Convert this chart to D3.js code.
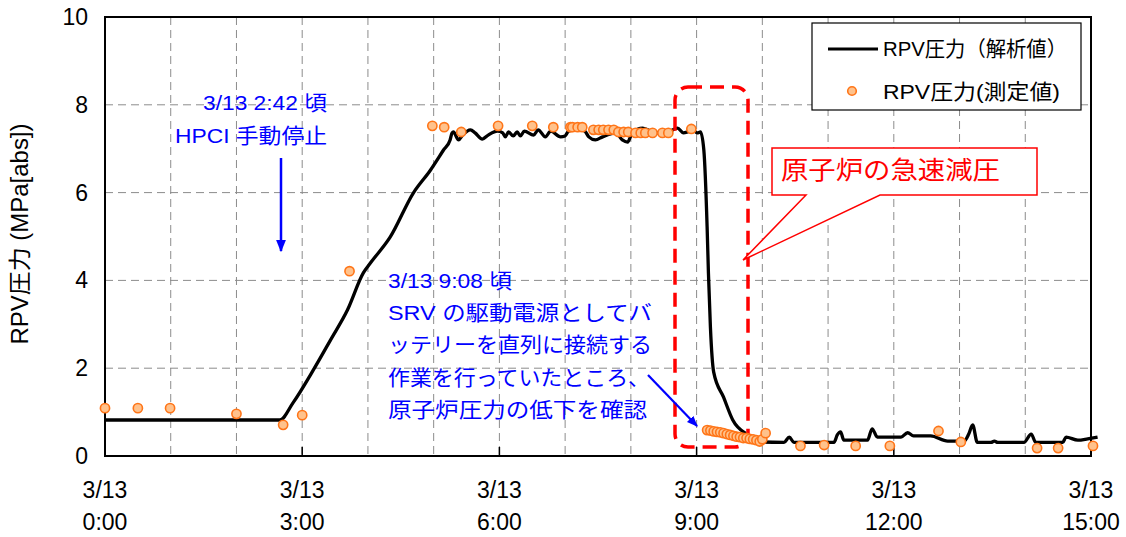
<!DOCTYPE html>
<html><head><meta charset="utf-8">
<script src="https://cdn.jsdelivr.net/npm/d3@7"></script>
<style>
html,body{margin:0;padding:0;background:#fff;}
svg{display:block;font-family:"Liberation Sans","Noto Sans CJK JP",sans-serif;}
</style></head>
<body>
<svg id="chart" width="1126" height="537"></svg>
<script>
// ---- data ----
const analysisHours = [0,2.66,2.86,3.17,3.43,3.69,3.93,4.04,4.34,4.69,4.95,5.15,5.25,5.28,5.30,5.38,5.44,5.56,5.63,5.74,5.83,5.97,6.05,6.09,6.14,6.21,6.27,6.32,6.38,6.52,6.59,6.70,6.78,6.93,7.00,7.05,7.20,7.30,7.36,7.46,7.57,7.77,7.87,7.95,8.02,8.18,8.38,8.53,8.71,8.80,8.86,8.94,9.01,9.06,9.11,9.16,9.18,9.21,9.26,9.41,9.55,9.78,9.97,10.33,10.41,10.48,11.09,11.14,11.19,11.24,11.60,11.67,11.75,12.11,12.21,12.30,12.56,12.82,13.07,13.14,13.20,13.27,13.48,13.53,13.58,13.98,14.09,14.16,14.57,14.62,14.80,14.95,15.10];
const analysisValues = [0.82,0.82,1.21,1.96,2.64,3.33,4.17,4.40,4.99,5.99,6.51,6.97,7.20,7.36,7.38,7.20,7.31,7.43,7.36,7.22,7.31,7.40,7.36,7.27,7.38,7.29,7.38,7.29,7.40,7.31,7.43,7.27,7.40,7.27,7.29,7.40,7.45,7.40,7.27,7.20,7.27,7.36,7.20,7.15,7.36,7.47,7.36,7.36,7.47,7.36,7.38,7.43,7.36,7.38,6.97,5.22,4.17,2.94,1.91,1.34,0.82,0.48,0.32,0.31,0.43,0.31,0.31,0.48,0.55,0.36,0.36,0.62,0.43,0.43,0.53,0.46,0.46,0.34,0.34,0.50,0.71,0.31,0.31,0.34,0.31,0.31,0.50,0.31,0.31,0.43,0.36,0.39,0.43];

const measuredHours = [0,0.5,0.99,2.0,2.71,3.0,3.72,4.98,5.16,5.42,5.98,6.50,6.82,7.08,7.11,7.19,7.26,7.43,7.51,7.58,7.66,7.74,7.81,7.89,7.96,8.07,8.15,8.22,8.33,8.48,8.57,8.92,9.16,9.21,9.26,9.31,9.36,9.41,9.46,9.51,9.56,9.61,9.66,9.71,9.76,9.81,9.86,9.91,9.96,10.00,10.05,10.58,10.94,11.42,11.94,12.68,13.02,14.18,14.50,15.03];
const measuredValues = [1.09,1.09,1.09,0.96,0.71,0.93,4.21,7.52,7.49,7.38,7.52,7.52,7.49,7.49,7.49,7.49,7.49,7.43,7.43,7.43,7.43,7.43,7.38,7.38,7.38,7.36,7.36,7.36,7.36,7.36,7.36,7.45,0.59,0.58,0.56,0.55,0.54,0.52,0.50,0.48,0.46,0.44,0.43,0.41,0.41,0.39,0.38,0.36,0.33,0.38,0.52,0.23,0.25,0.23,0.23,0.57,0.32,0.18,0.18,0.23];

const xTickHours = [0,3,6,9,12,15];
const xTickDates = ["3/13","3/13","3/13","3/13","3/13","3/13"];
const xTickTimes = ["0:00","3:00","6:00","9:00","12:00","15:00"];
const yTicks = [0,2,4,6,8,10];

const legendLabels = ["RPV圧力（解析値）","RPV圧力(測定値)"];
const yTitle = "RPV圧力 (MPa[abs])";
const note1 = ["3/13 2:42 頃","HPCI 手動停止"];
const note2 = ["3/13 9:08 頃","SRV  の駆動電源としてバ","ッテリーを直列に接続する","作業を行っていたところ、","原子炉圧力の低下を確認"];
const calloutText = "原子炉の急速減圧";

// ---- layout ----
const svg = d3.select("#chart");
const L = 105, R = 1091, T = 17, B = 456;
const x = d3.scaleLinear().domain([0,15]).range([L,R]);
const y = d3.scaleLinear().domain([0,10]).range([B,T]);

const defs = svg.append("defs");
defs.append("marker").attr("id","arrowBlue").attr("viewBox","0 0 10 10")
  .attr("refX",9).attr("refY",5).attr("markerWidth",5).attr("markerHeight",5)
  .attr("markerUnits","strokeWidth").attr("orient","auto")
  .append("path").attr("d","M0,1 L10,5 L0,9 Z").attr("fill","#0000ff");

// grid
const grid = svg.append("g");
grid.selectAll("line.v").data(d3.range(1,15)).enter().append("line")
  .attr("x1",d=>x(d)).attr("x2",d=>x(d)).attr("y1",T).attr("y2",B)
  .attr("stroke","#8c8c8c").attr("stroke-width",1).attr("stroke-dasharray","8,5");
grid.selectAll("line.h").data([2,4,6,8]).enter().append("line")
  .attr("x1",L).attr("x2",R).attr("y1",d=>y(d)).attr("y2",d=>y(d))
  .attr("stroke","#8c8c8c").attr("stroke-width",1).attr("stroke-dasharray","8,5");

// major x ticks (inward)
svg.append("g").selectAll("line").data(xTickHours).enter().append("line")
  .attr("x1",d=>x(d)).attr("x2",d=>x(d)).attr("y1",B).attr("y2",B-9)
  .attr("stroke","#000").attr("stroke-width",1.5);

// frame
svg.append("rect").attr("x",L).attr("y",T).attr("width",R-L).attr("height",B-T)
  .attr("fill","none").attr("stroke","#000").attr("stroke-width",2);

// axis labels
const xl = svg.append("g").attr("font-size",23).attr("text-anchor","middle").attr("fill","#000");
xl.selectAll("text.d").data(xTickHours).enter().append("text")
  .attr("x",d=>x(d)).attr("y",498).text((d,i)=>xTickDates[i]);
xl.selectAll("text.t").data(xTickHours).enter().append("text")
  .attr("x",d=>x(d)).attr("y",530).text((d,i)=>xTickTimes[i]);

svg.append("g").attr("font-size",23).attr("text-anchor","end")
  .selectAll("text").data(yTicks).enter().append("text")
  .attr("x",88).attr("y",d=>y(d)+8).text(d=>d);

svg.append("text").attr("transform","translate(28,234) rotate(-90)")
  .attr("text-anchor","middle").attr("font-size",23)
  .attr("textLength",221).attr("lengthAdjust","spacingAndGlyphs").text(yTitle);

// analysis line
const line = d3.line().x((d,i)=>x(analysisHours[i])).y((d,i)=>y(analysisValues[i])).curve(d3.curveMonotoneX);
svg.append("path").datum(analysisValues).attr("d",line)
  .attr("fill","none").attr("stroke","#000").attr("stroke-width",3.3).attr("stroke-linejoin","round");

// red dashed rounded rectangle
svg.append("rect").attr("x",675).attr("y",87).attr("width",73).attr("height",360)
  .attr("rx",13).attr("fill","none").attr("stroke","#ff0000").attr("stroke-width",3.5)
  .attr("stroke-dasharray","14,8");

// measured points
svg.append("g").selectAll("circle").data(measuredValues).enter().append("circle")
  .attr("cx",(d,i)=>x(measuredHours[i])).attr("cy",d=>y(d)).attr("r",4.6)
  .attr("fill","#ffc28c").attr("stroke","#ff7518").attr("stroke-width",1.6);

// legend
const lg = svg.append("g");
lg.append("rect").attr("x",812).attr("y",23).attr("width",269).attr("height",87)
  .attr("fill","#fff").attr("stroke","#000").attr("stroke-width",1.2);
lg.append("line").attr("x1",828).attr("x2",878).attr("y1",49).attr("y2",49)
  .attr("stroke","#000").attr("stroke-width",3);
lg.append("circle").attr("cx",852).attr("cy",91).attr("r",4.3)
  .attr("fill","#ffc28c").attr("stroke","#ff7518").attr("stroke-width",1.6);
lg.append("text").attr("x",883).attr("y",56).attr("font-size",21)
  .attr("textLength",184).attr("lengthAdjust","spacingAndGlyphs").text(legendLabels[0]);
lg.append("text").attr("x",883).attr("y",99).attr("font-size",21)
  .attr("textLength",177).attr("lengthAdjust","spacingAndGlyphs").text(legendLabels[1]);

// callout
svg.append("path")
  .attr("d","M772,148 L1037,148 L1037,195 L880,195 L743,260 L806,195 L772,195 Z")
  .attr("fill","#fff").attr("stroke","#ff0000").attr("stroke-width",1.5).attr("stroke-linejoin","miter");
svg.append("text").attr("x",781).attr("y",179).attr("font-size",25).attr("fill","#ff0000")
  .attr("textLength",219).attr("lengthAdjust","spacingAndGlyphs").text(calloutText);

// blue annotations
const n1 = svg.append("g").attr("fill","#0000ff").attr("font-size",21).attr("text-anchor","end");
n1.append("text").attr("x",327).attr("y",110).attr("textLength",124).attr("lengthAdjust","spacingAndGlyphs").text(note1[0]);
n1.append("text").attr("x",327).attr("y",143).attr("textLength",152).attr("lengthAdjust","spacingAndGlyphs").text(note1[1]);
svg.append("line").attr("x1",281).attr("y1",158).attr("x2",281).attr("y2",251)
  .attr("stroke","#0000ff").attr("stroke-width",2.5).attr("marker-end","url(#arrowBlue)");

const n2Len = [124,264,264,262,259];
const n2Y = [288,320,352,385,417];
const n2 = svg.append("g").attr("fill","#0000ff").attr("font-size",21);
n2.selectAll("text").data(note2).enter().append("text")
  .attr("x",388).attr("y",(d,i)=>n2Y[i]).attr("textLength",(d,i)=>n2Len[i])
  .attr("lengthAdjust","spacingAndGlyphs").text(d=>d);
svg.append("line").attr("x1",648).attr("y1",375).attr("x2",697).attr("y2",426)
  .attr("stroke","#0000ff").attr("stroke-width",2.2).attr("marker-end","url(#arrowBlue)");
</script>
</body></html>
